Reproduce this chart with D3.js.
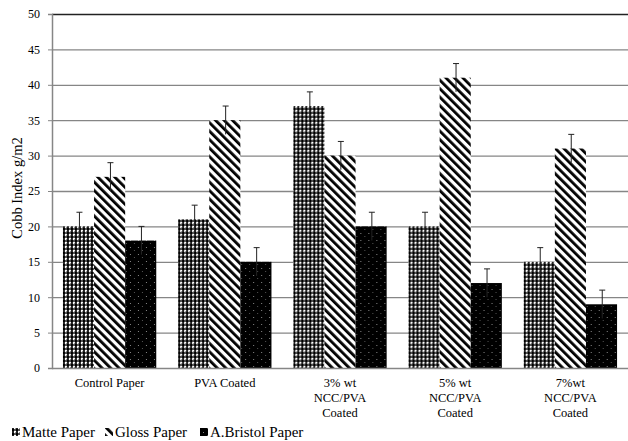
<!DOCTYPE html>
<html><head><meta charset="utf-8">
<script src="https://cdn.jsdelivr.net/npm/d3@7"></script>
</head><body style="margin:0">
<script>
const categories = [["Control Paper"],["PVA Coated"],["3% wt","NCC/PVA","Coated"],["5% wt","NCC/PVA","Coated"],["7%wt","NCC/PVA","Coated"]];
const seriesNames = ["Matte Paper","Gloss Paper","A.Bristol Paper"];
const matte = [20, 21, 37, 20, 15];
const gloss = [27, 35, 30, 41, 31];
const bristol = [18, 15, 20, 12, 9];
const errors = [2, 2, 2, 2, 2];
const yTicks = [0,5,10,15,20,25,30,35,40,45,50];

const W = 628, H = 441;
const m = {left: 52, right: 0, top: 14, bottom: 73};
const FONT = '"Liberation Serif"';
const svg = d3.select("body").append("svg").attr("width", W).attr("height", H).style("font-family", FONT);
const defs = svg.append("defs");

// Matte: dense plaid
const pm = defs.append("pattern").attr("id","pMatte").attr("patternUnits","userSpaceOnUse").attr("width",4).attr("height",4);
pm.append("rect").attr("width",4).attr("height",4).attr("fill","#fff");
pm.append("rect").attr("x",0).attr("y",0).attr("width",2).attr("height",4).attr("fill","#222");
pm.append("rect").attr("x",0).attr("y",0).attr("width",4).attr("height",2).attr("fill","#555");
pm.append("rect").attr("x",0).attr("y",0).attr("width",2).attr("height",2).attr("fill","#000");
pm.append("rect").attr("x",3).attr("y",3).attr("width",1).attr("height",1).attr("fill","#999");

// Gloss: backslash stripes
const pg = defs.append("pattern").attr("id","pGloss").attr("patternUnits","userSpaceOnUse").attr("width",6).attr("height",6)
  .attr("patternTransform","rotate(-45)");
pg.append("rect").attr("width",6).attr("height",6).attr("fill","#fff");
pg.append("rect").attr("x",0).attr("y",0).attr("width",2.8).attr("height",6).attr("fill","#000");

// Bristol: black with grey dots
const pb = defs.append("pattern").attr("id","pBristol").attr("patternUnits","userSpaceOnUse").attr("width",8).attr("height",7);
pb.append("rect").attr("width",8).attr("height",7).attr("fill","#000");
pb.append("rect").attr("x",3).attr("y",2).attr("width",1).attr("height",1).attr("fill","#888");
pb.append("rect").attr("x",7).attr("y",5).attr("width",1).attr("height",1).attr("fill","#555");

const fills = ["url(#pMatte)","url(#pGloss)","url(#pBristol)"];
const seriesVals = [matte, gloss, bristol];

const x0 = d3.scaleBand().domain(d3.range(categories.length)).range([m.left, W - m.right]).paddingInner(0.19).paddingOuter(0.095);
const x1 = d3.scaleBand().domain(d3.range(seriesNames.length)).range([0, x0.bandwidth()]);
const y = d3.scaleLinear().domain([0,50]).range([H - m.bottom, m.top]);

// grid
svg.append("g").selectAll("line").data(yTicks.filter(t=>t>0)).join("line")
  .attr("x1", m.left).attr("x2", W).attr("y1", d=>y(d)+0.5).attr("y2", d=>y(d)+0.5)
  .attr("stroke", d=> d===50 ? "#222" : "#868686").attr("stroke-width", d=> d===50?1.5:1.3);

// bars
const groups = svg.append("g").selectAll("g").data(categories).join("g")
  .attr("transform", (d,i)=>`translate(${x0(i)},0)`);
groups.each(function(c, i){
  const g = d3.select(this);
  seriesVals.forEach((vals, s) => {
    g.append("rect").attr("x", x1(s)).attr("width", x1.bandwidth())
      .attr("y", y(vals[i])).attr("height", y(0) - y(vals[i])).attr("fill", fills[s]);
  });
  seriesVals.forEach((vals, s) => {
    const cx = Math.round(x1(s) + x1.bandwidth()/2) + 0.5;
    const hi = vals[i] + errors[i], lo = vals[i] - errors[i];
    g.append("line").attr("x1",cx).attr("x2",cx).attr("y1",y(hi)).attr("y2",y(lo)).attr("stroke","#222").attr("stroke-width",1);
    g.append("line").attr("x1",cx-3).attr("x2",cx+3).attr("y1",y(hi)).attr("y2",y(hi)).attr("stroke","#222").attr("stroke-width",1);
  });
});

// y axis
const yAxis = svg.append("g").attr("transform",`translate(${m.left},0)`)
  .call(d3.axisLeft(y).tickValues(yTicks).tickSize(4).tickPadding(8));
yAxis.attr("font-family", null).style("font-family", FONT);
yAxis.select(".domain").attr("stroke","#868686").attr("stroke-width",1.5);
yAxis.selectAll(".tick line").attr("stroke","#868686");
yAxis.selectAll("text").style("font-family", FONT).attr("font-size",12).attr("fill","#000");

svg.append("line").attr("x1",m.left).attr("x2",W).attr("y1",y(0)+0.5).attr("y2",y(0)+0.5).attr("stroke","#868686").attr("stroke-width",1.5);

// x labels
const xl = svg.append("g").selectAll("text").data(categories).join("text")
  .style("font-family", FONT)
  .attr("text-anchor","middle").attr("font-size",12.5)
  .attr("x",(d,i)=>x0(i)+x0.bandwidth()/2).attr("y", y(0)+19);
xl.each(function(lines){
  d3.select(this).selectAll("tspan").data(lines).join("tspan")
    .style("font-family", FONT)
    .attr("x", d3.select(this).attr("x")).attr("dy",(d,j)=> j===0?0:15).text(d=>d);
});

// y label
svg.append("text").style("font-family", FONT).attr("transform",`translate(22,188) rotate(-90)`)
  .attr("text-anchor","middle").attr("font-size",14.5).text("Cobb Index g/m2");

// legend
const legendX = [12, 105, 200];
const lg = svg.append("g").selectAll("g").data(seriesNames).join("g")
  .attr("transform",(d,i)=>`translate(${legendX[i]},437)`);
lg.append("rect").attr("x",0).attr("y",-9).attr("width",8).attr("height",8).attr("fill",(d,i)=>fills[i]);
lg.append("text").style("font-family", FONT).attr("x",10).attr("y",0).attr("font-size",15).text(d=>d);
</script>
</body></html>
